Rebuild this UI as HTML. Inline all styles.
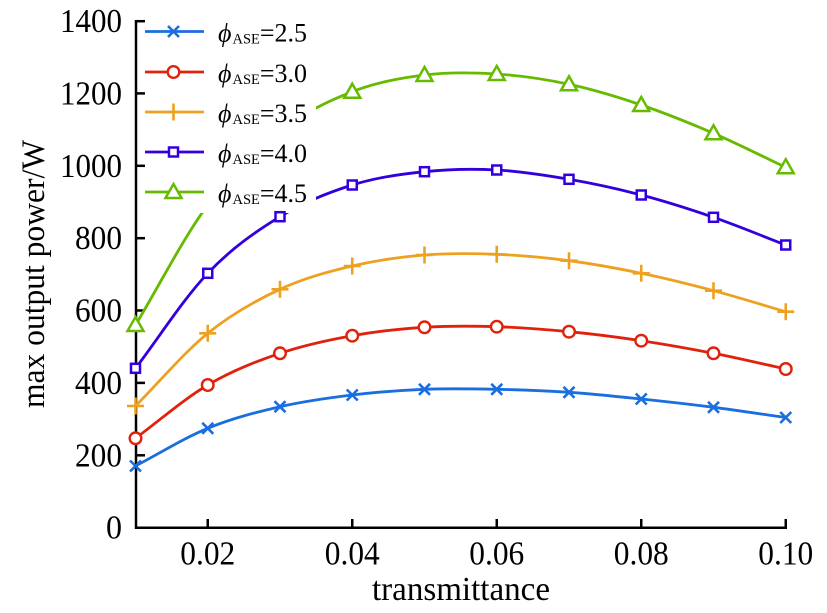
<!DOCTYPE html>
<html>
<head>
<meta charset="utf-8">
<style>
html,body{margin:0;padding:0;background:#fff;}
svg{display:block;}
text{font-family:"Liberation Serif","Times New Roman",serif;fill:#000;}
</style>
</head>
<body>
<svg width="827" height="613" viewBox="0 0 827 613" xmlns="http://www.w3.org/2000/svg">
<defs>
  <path id="mx" d="M-5.5,-5.5L5.5,5.5M-5.5,5.5L5.5,-5.5" fill="none" stroke-width="2.6"/>
  <circle id="mo" r="5.8" fill="#fff" stroke-width="2.4"/>
  <path id="mp" d="M-8.5,0H8.5M0,-8.5V8.5" fill="none" stroke-width="2.6"/>
  <rect id="ms" x="-4.5" y="-4.5" width="9" height="9" fill="#fff" stroke-width="2.5"/>
  <polygon id="mt" points="0,-8 8,6 -8,6" fill="#fff" stroke-width="2.5"/>
</defs>

<!-- axes -->
<g stroke="#000" stroke-width="2.5" fill="none">
  <line x1="136" y1="20" x2="136" y2="529"/>
  <line x1="135" y1="527.7" x2="787" y2="527.7"/>
  <line x1="136" y1="455.3" x2="145" y2="455.3"/>
  <line x1="136" y1="382.9" x2="145" y2="382.9"/>
  <line x1="136" y1="310.5" x2="145" y2="310.5"/>
  <line x1="136" y1="238.2" x2="145" y2="238.2"/>
  <line x1="136" y1="165.8" x2="145" y2="165.8"/>
  <line x1="136" y1="93.4" x2="145" y2="93.4"/>
  <line x1="136" y1="21.2" x2="145" y2="21.2"/>
  <line x1="207.75" y1="519" x2="207.75" y2="528"/>
  <line x1="352.25" y1="519" x2="352.25" y2="528"/>
  <line x1="496.75" y1="519" x2="496.75" y2="528"/>
  <line x1="641.25" y1="519" x2="641.25" y2="528"/>
  <line x1="785.75" y1="519" x2="785.75" y2="528"/>
</g>

<!-- y tick labels -->
<g font-size="34" text-anchor="end">
  <text x="122" y="538.7" textLength="16" lengthAdjust="spacingAndGlyphs">0</text>
  <text x="122" y="466.3" textLength="47" lengthAdjust="spacingAndGlyphs">200</text>
  <text x="122" y="393.9" textLength="47" lengthAdjust="spacingAndGlyphs">400</text>
  <text x="122" y="321.5" textLength="47" lengthAdjust="spacingAndGlyphs">600</text>
  <text x="122" y="249.2" textLength="47" lengthAdjust="spacingAndGlyphs">800</text>
  <text x="122" y="176.8" textLength="62" lengthAdjust="spacingAndGlyphs">1000</text>
  <text x="122" y="104.4" textLength="62" lengthAdjust="spacingAndGlyphs">1200</text>
  <text x="122" y="32" textLength="62" lengthAdjust="spacingAndGlyphs">1400</text>
</g>
<!-- x tick labels -->
<g font-size="34" text-anchor="middle">
  <text x="207.75" y="564.5" textLength="55" lengthAdjust="spacingAndGlyphs">0.02</text>
  <text x="352.25" y="564.5" textLength="55" lengthAdjust="spacingAndGlyphs">0.04</text>
  <text x="496.75" y="564.5" textLength="55" lengthAdjust="spacingAndGlyphs">0.06</text>
  <text x="641.25" y="564.5" textLength="55" lengthAdjust="spacingAndGlyphs">0.08</text>
  <text x="785.75" y="564.5" textLength="55" lengthAdjust="spacingAndGlyphs">0.10</text>
</g>
<text x="461" y="600" font-size="34" text-anchor="middle" textLength="178" lengthAdjust="spacingAndGlyphs">transmittance</text>
<text transform="translate(44,274) rotate(-90)" font-size="33" text-anchor="middle" textLength="268" lengthAdjust="spacingAndGlyphs">max output power/W</text>

<!-- series lines -->
<g fill="none" stroke-width="2.8" stroke-linejoin="round">
<path stroke="#1a6ee0" d="M135.5,466 C159.6,453.4 183.7,438.2 207.75,428.3 C231.8,418.4 255.9,412.3 280,406.7 C304.1,401.2 328.2,397.9 352.25,395 C376.3,392.1 400.4,390.3 424.5,389.3 C448.6,388.4 472.7,388.8 496.75,389.3 C520.8,389.8 544.9,390.7 569,392.3 C593.1,393.9 617.2,396.5 641.25,399 C665.3,401.5 689.4,404.2 713.5,407.3 C737.6,410.4 761.7,414.1 785.75,417.5"/>
<path stroke="#e0220c" d="M135.5,438.3 C159.6,420.5 183.7,399.2 207.75,385 C231.8,370.8 255.9,361.5 280,353.3 C304.1,345.1 328.2,340 352.25,335.7 C376.3,331.4 400.4,328.8 424.5,327.3 C448.6,325.8 472.7,326 496.75,326.7 C520.8,327.4 544.9,329.4 569,331.7 C593.1,334 617.2,337.1 641.25,340.7 C665.3,344.3 689.4,348.6 713.5,353.3 C737.6,358 761.7,363.8 785.75,369"/>
<path stroke="#eea020" d="M135.5,406 C159.6,381.8 183.7,352.8 207.75,333.3 C231.8,313.9 255.9,300.5 280,289.3 C304.1,278.1 328.2,271.7 352.25,266 C376.3,260.3 400.4,257 424.5,255 C448.6,253 472.7,253.4 496.75,254.3 C520.8,255.3 544.9,257.5 569,260.7 C593.1,263.9 617.2,268.3 641.25,273.3 C665.3,278.3 689.4,284.3 713.5,290.7 C737.6,297.1 761.7,304.7 785.75,311.7"/>
<path stroke="#3300dd" d="M135.5,368.3 C159.6,336.6 183.7,298.6 207.75,273.3 C231.8,248 255.9,231.4 280,216.7 C304.1,202 328.2,192.5 352.25,185 C376.3,177.5 400.4,174.2 424.5,171.7 C448.6,169.2 472.7,168.7 496.75,170 C520.8,171.3 544.9,175.1 569,179.3 C593.1,183.5 617.2,188.7 641.25,195 C665.3,201.3 689.4,209 713.5,217.3 C737.6,225.6 761.7,235.8 785.75,245"/>
<path stroke="#66bb00" d="M135.5,325 C159.6,285 183.7,237.3 207.75,205 C231.8,172.7 255.9,150.3 280,131.4 C304.1,112.5 328.2,101.1 352.25,91.7 C376.3,82.3 400.4,78 424.5,75 C448.6,72 472.7,72.5 496.75,74 C520.8,75.6 544.9,79.1 569,84.3 C593.1,89.5 617.2,96.8 641.25,105 C665.3,113.2 689.4,122.9 713.5,133.3 C737.6,143.7 761.7,156 785.75,167.3"/>
</g>

<!-- markers -->
<g stroke="#1a6ee0">
<use href="#mx" x="135.5" y="466"/><use href="#mx" x="207.75" y="428.3"/><use href="#mx" x="280" y="406.7"/><use href="#mx" x="352.25" y="395"/><use href="#mx" x="424.5" y="389.3"/><use href="#mx" x="496.75" y="389.3"/><use href="#mx" x="569" y="392.3"/><use href="#mx" x="641.25" y="399"/><use href="#mx" x="713.5" y="407.3"/><use href="#mx" x="785.75" y="417.5"/>
</g>
<g stroke="#e0220c">
<use href="#mo" x="135.5" y="438.3"/><use href="#mo" x="207.75" y="385"/><use href="#mo" x="280" y="353.3"/><use href="#mo" x="352.25" y="335.7"/><use href="#mo" x="424.5" y="327.3"/><use href="#mo" x="496.75" y="326.7"/><use href="#mo" x="569" y="331.7"/><use href="#mo" x="641.25" y="340.7"/><use href="#mo" x="713.5" y="353.3"/><use href="#mo" x="785.75" y="369"/>
</g>
<g stroke="#eea020">
<use href="#mp" x="135.5" y="406"/><use href="#mp" x="207.75" y="333.3"/><use href="#mp" x="280" y="289.3"/><use href="#mp" x="352.25" y="266"/><use href="#mp" x="424.5" y="255"/><use href="#mp" x="496.75" y="254.3"/><use href="#mp" x="569" y="260.7"/><use href="#mp" x="641.25" y="273.3"/><use href="#mp" x="713.5" y="290.7"/><use href="#mp" x="785.75" y="311.7"/>
</g>
<g stroke="#3300dd">
<use href="#ms" x="135.5" y="368.3"/><use href="#ms" x="207.75" y="273.3"/><use href="#ms" x="352.25" y="185"/><use href="#ms" x="424.5" y="171.7"/><use href="#ms" x="496.75" y="170"/><use href="#ms" x="569" y="179.3"/><use href="#ms" x="641.25" y="195"/><use href="#ms" x="713.5" y="217.3"/><use href="#ms" x="785.75" y="245"/>
</g>
<g stroke="#66bb00">
<use href="#mt" x="135.5" y="325"/><use href="#mt" x="352.25" y="91.7"/><use href="#mt" x="424.5" y="75"/><use href="#mt" x="496.75" y="74"/><use href="#mt" x="569" y="84.3"/><use href="#mt" x="641.25" y="105"/><use href="#mt" x="713.5" y="133.3"/><use href="#mt" x="785.75" y="167.3"/>
</g>

<!-- legend box -->
<rect x="146" y="10" width="170" height="203" fill="#fff"/>
<g stroke="#3300dd"><use href="#ms" x="280" y="216.7"/></g>

<!-- legend -->
<g stroke-width="2.8">
  <line x1="145" y1="31.5" x2="204" y2="31.5" stroke="#1a6ee0"/>
  <line x1="145" y1="72" x2="204" y2="72" stroke="#e0220c"/>
  <line x1="145" y1="112" x2="204" y2="112" stroke="#eea020"/>
  <line x1="145" y1="152" x2="204" y2="152" stroke="#3300dd"/>
  <line x1="145" y1="192" x2="204" y2="192" stroke="#66bb00"/>
</g>
<use href="#mx" x="173.5" y="31.5" stroke="#1a6ee0"/>
<use href="#mo" x="173.5" y="72" stroke="#e0220c"/>
<use href="#mp" x="173.5" y="112" stroke="#eea020"/>
<use href="#ms" x="173.5" y="152" stroke="#3300dd"/>
<use href="#mt" x="173.5" y="192" stroke="#66bb00"/>

<g font-size="26">
  <text x="218" y="41.5"><tspan font-style="italic">ϕ</tspan><tspan font-size="14.5" dy="2" dx="1">ASE</tspan><tspan dy="-2">=2.5</tspan></text>
  <text x="218" y="82"><tspan font-style="italic">ϕ</tspan><tspan font-size="14.5" dy="2" dx="1">ASE</tspan><tspan dy="-2">=3.0</tspan></text>
  <text x="218" y="122"><tspan font-style="italic">ϕ</tspan><tspan font-size="14.5" dy="2" dx="1">ASE</tspan><tspan dy="-2">=3.5</tspan></text>
  <text x="218" y="162"><tspan font-style="italic">ϕ</tspan><tspan font-size="14.5" dy="2" dx="1">ASE</tspan><tspan dy="-2">=4.0</tspan></text>
  <text x="218" y="202"><tspan font-style="italic">ϕ</tspan><tspan font-size="14.5" dy="2" dx="1">ASE</tspan><tspan dy="-2">=4.5</tspan></text>
</g>
</svg>
</body>
</html>
